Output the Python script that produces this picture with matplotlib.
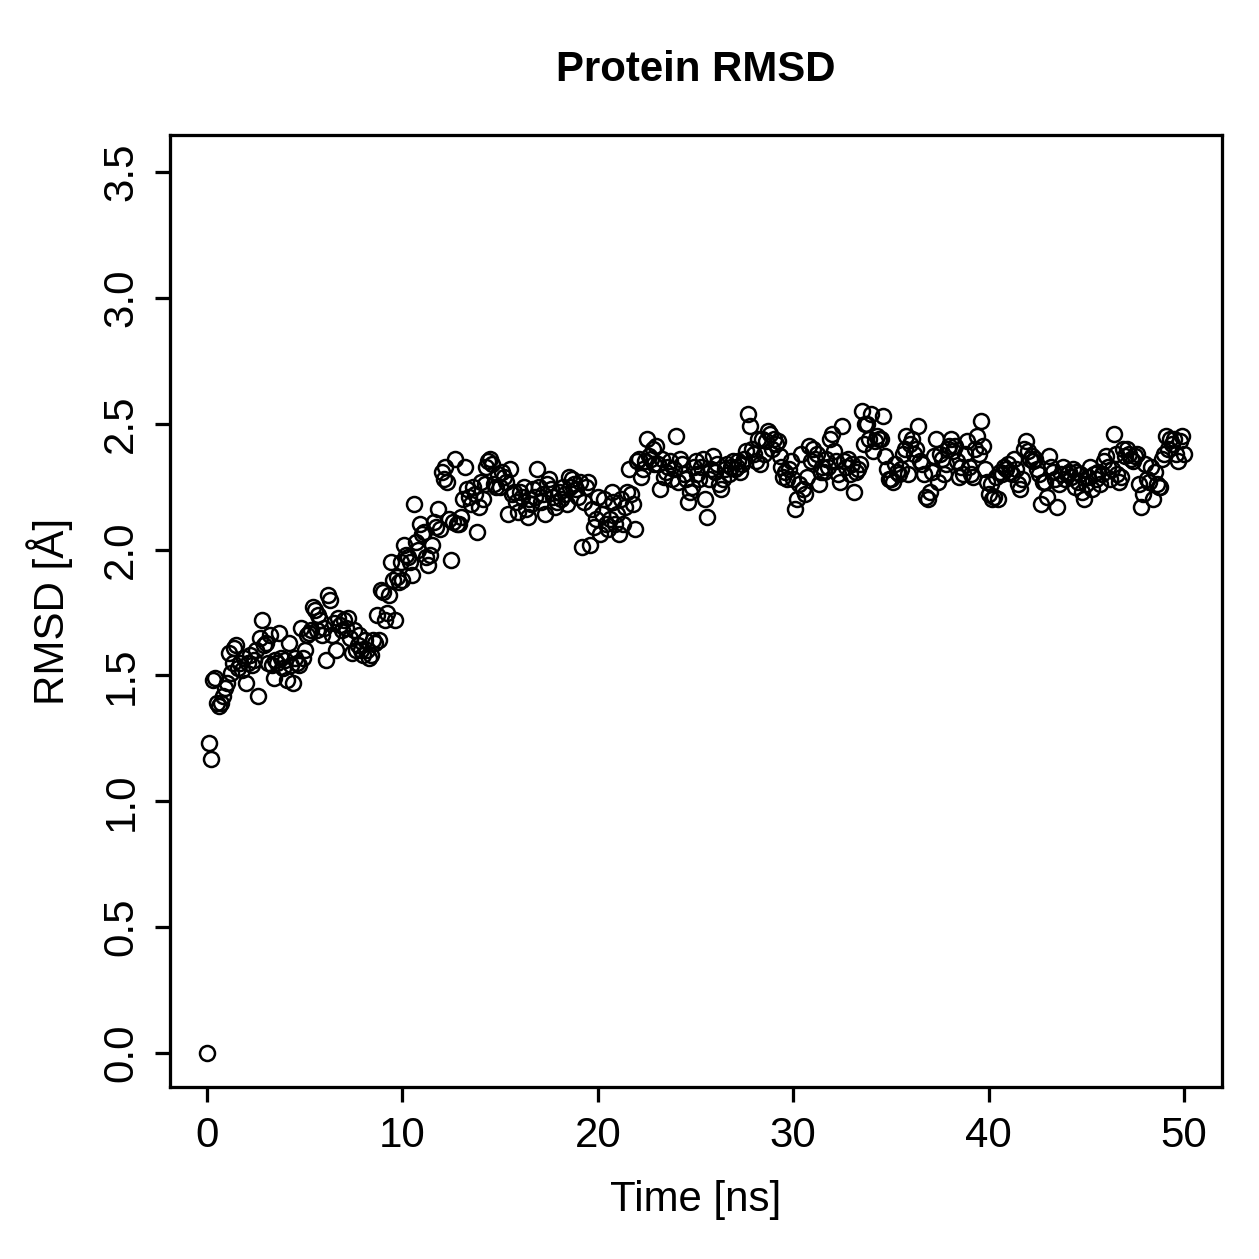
import matplotlib.pyplot as plt
import numpy as np

plt.rcParams['font.family'] = ['Liberation Sans', 'DejaVu Sans']

# RMSD values (Angstrom), one row per ns (0.1 ns steps)
rmsd_rows = [
    [0.00, 1.23, 1.17, 1.48, 1.49, 1.39, 1.38, 1.39, 1.42, 1.45],
    [1.47, 1.59, 1.51, 1.55, 1.61, 1.62, 1.53, 1.55, 1.52, 1.57],
    [1.47, 1.55, 1.58, 1.54, 1.56, 1.60, 1.42, 1.65, 1.72, 1.62],
    [1.63, 1.55, 1.66, 1.54, 1.49, 1.56, 1.55, 1.67, 1.57, 1.53],
    [1.56, 1.48, 1.63, 1.54, 1.47, 1.57, 1.55, 1.54, 1.69, 1.57],
    [1.60, 1.66, 1.67, 1.68, 1.77, 1.76, 1.68, 1.74, 1.72, 1.66],
    [1.69, 1.56, 1.82, 1.80, 1.66, 1.71, 1.60, 1.73, 1.70, 1.68],
    [1.72, 1.69, 1.73, 1.65, 1.59, 1.68, 1.60, 1.62, 1.66, 1.60],
    [1.58, 1.64, 1.60, 1.57, 1.58, 1.64, 1.63, 1.74, 1.64, 1.84],
    [1.83, 1.72, 1.75, 1.82, 1.95, 1.88, 1.72, 1.89, 1.87, 1.95],
    [1.88, 2.02, 1.98, 1.97, 1.95, 1.90, 2.18, 2.03, 2.00, 2.10],
    [2.06, 2.07, 1.97, 1.94, 1.98, 2.02, 2.11, 2.09, 2.16, 2.08],
    [2.31, 2.28, 2.33, 2.27, 2.12, 1.96, 2.11, 2.36, 2.10, 2.10],
    [2.13, 2.20, 2.33, 2.24, 2.21, 2.18, 2.25, 2.22, 2.07, 2.17],
    [2.27, 2.20, 2.26, 2.33, 2.35, 2.36, 2.34, 2.26, 2.25, 2.30],
    [2.25, 2.31, 2.29, 2.27, 2.14, 2.32, 2.22, 2.23, 2.19, 2.15],
    [2.23, 2.21, 2.25, 2.16, 2.13, 2.20, 2.18, 2.24, 2.21, 2.32],
    [2.25, 2.19, 2.22, 2.14, 2.26, 2.28, 2.24, 2.21, 2.17, 2.19],
    [2.23, 2.20, 2.25, 2.22, 2.18, 2.29, 2.25, 2.28, 2.26, 2.24],
    [2.21, 2.27, 2.01, 2.19, 2.25, 2.27, 2.02, 2.16, 2.09, 2.12],
    [2.21, 2.06, 2.14, 2.20, 2.10, 2.08, 2.12, 2.23, 2.19, 2.10],
    [2.14, 2.06, 2.20, 2.10, 2.17, 2.23, 2.32, 2.22, 2.18, 2.08],
    [2.35, 2.36, 2.29, 2.32, 2.35, 2.44, 2.37, 2.36, 2.40, 2.34],
    [2.41, 2.34, 2.24, 2.36, 2.29, 2.31, 2.33, 2.35, 2.28, 2.32],
    [2.45, 2.27, 2.36, 2.34, 2.30, 2.28, 2.19, 2.23, 2.25, 2.33],
    [2.35, 2.30, 2.28, 2.33, 2.36, 2.20, 2.13, 2.28, 2.32, 2.37],
    [2.31, 2.34, 2.26, 2.24, 2.28, 2.32, 2.34, 2.30, 2.33, 2.35],
    [2.32, 2.33, 2.35, 2.31, 2.34, 2.36, 2.39, 2.54, 2.49, 2.40],
    [2.38, 2.35, 2.44, 2.34, 2.44, 2.38, 2.43, 2.47, 2.46, 2.40],
    [2.44, 2.42, 2.43, 2.37, 2.33, 2.29, 2.31, 2.28, 2.32, 2.35],
    [2.28, 2.16, 2.20, 2.26, 2.38, 2.24, 2.22, 2.29, 2.41, 2.35],
    [2.40, 2.36, 2.38, 2.26, 2.31, 2.33, 2.31, 2.36, 2.33, 2.44],
    [2.46, 2.39, 2.35, 2.30, 2.27, 2.49, 2.35, 2.33, 2.36, 2.30],
    [2.34, 2.23, 2.31, 2.32, 2.34, 2.55, 2.42, 2.50, 2.50, 2.44],
    [2.54, 2.39, 2.43, 2.45, 2.44, 2.44, 2.53, 2.37, 2.32, 2.28],
    [2.28, 2.27, 2.34, 2.31, 2.30, 2.32, 2.38, 2.40, 2.45, 2.30],
    [2.42, 2.44, 2.38, 2.40, 2.49, 2.35, 2.34, 2.30, 2.21, 2.20],
    [2.23, 2.31, 2.37, 2.44, 2.27, 2.38, 2.36, 2.30, 2.34, 2.40],
    [2.41, 2.44, 2.39, 2.41, 2.35, 2.29, 2.33, 2.30, 2.38, 2.43],
    [2.33, 2.30, 2.29, 2.40, 2.45, 2.38, 2.51, 2.41, 2.32, 2.27],
    [2.22, 2.26, 2.20, 2.21, 2.29, 2.20, 2.31, 2.30, 2.33, 2.32],
    [2.34, 2.31, 2.30, 2.36, 2.32, 2.26, 2.24, 2.28, 2.40, 2.43],
    [2.39, 2.36, 2.37, 2.35, 2.36, 2.32, 2.30, 2.18, 2.27, 2.27],
    [2.21, 2.37, 2.33, 2.31, 2.28, 2.17, 2.26, 2.30, 2.33, 2.28],
    [2.30, 2.31, 2.29, 2.32, 2.25, 2.31, 2.27, 2.30, 2.23, 2.20],
    [2.26, 2.29, 2.33, 2.24, 2.30, 2.28, 2.31, 2.26, 2.30, 2.35],
    [2.37, 2.33, 2.28, 2.32, 2.46, 2.38, 2.30, 2.27, 2.29, 2.40],
    [2.37, 2.40, 2.38, 2.36, 2.35, 2.37, 2.38, 2.26, 2.17, 2.22],
    [2.34, 2.28, 2.27, 2.33, 2.20, 2.31, 2.26, 2.25, 2.25, 2.36],
    [2.38, 2.45, 2.40, 2.44, 2.42, 2.44, 2.38, 2.35, 2.43, 2.45],
    [2.38],
]
rmsd = np.concatenate([np.array(r) for r in rmsd_rows])
time_ns = np.arange(len(rmsd)) * 0.1

x_ticks = [0, 10, 20, 30, 40, 50]
y_ticks = [0.0, 0.5, 1.0, 1.5, 2.0, 2.5, 3.0, 3.5]

W = 1259
fig = plt.figure(figsize=(W / 180, W / 180), dpi=180)
ax = fig.add_axes([170 / W, 1 - 1087 / W, (1222 - 170) / W, (1087 - 135) / W])

ax.plot(time_ns, rmsd, linestyle='none', marker='o', markersize=6.0,
        markerfacecolor='none', markeredgecolor='black', markeredgewidth=1.0)

ax.set_xlim(-1.9, 51.95)
ax.set_ylim(-0.135, 3.647)
ax.set_xticks(x_ticks)
ax.set_xticklabels([str(t) for t in x_ticks])
ax.set_yticks(y_ticks)
ax.set_yticklabels([f'{t:.1f}' for t in y_ticks], rotation=90, va='center')
ax.tick_params(direction='out', length=6, width=1.3, labelsize=16.8, pad=5.5)

for s in ax.spines.values():
    s.set_linewidth(1.3)

fig.text(696 / W, 1 - 70 / W, 'Protein RMSD', ha='center', va='center',
         fontsize=16.8, fontweight='bold')
fig.text(696 / W, 1 - 1200 / W, 'Time [ns]', ha='center', va='center', fontsize=16.8)
fig.text(50 / W, 1 - 611 / W, 'RMSD [Å]', ha='center', va='center',
         rotation=90, fontsize=16.8)

fig.savefig('out.png', dpi=180)
